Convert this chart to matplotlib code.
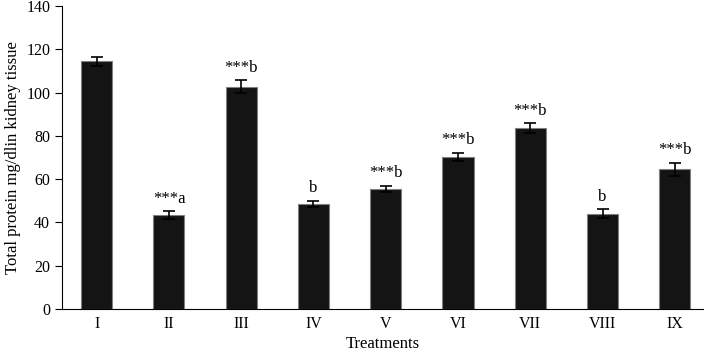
import matplotlib.pyplot as plt
import numpy as np

plt.rcParams['font.family'] = ['Liberation Serif', 'DejaVu Serif']

groups = ['I', 'II', 'III', 'IV', 'V', 'VI', 'VII', 'VIII', 'IX']
protein = [114.5, 43.5, 102.6, 48.5, 55.5, 70.2, 83.5, 44.0, 64.6]
err = [2.0, 1.8, 3.0, 1.5, 1.5, 2.0, 2.4, 2.0, 3.0]
marks = ['', '***a', '***b', 'b', '***b', '***b', '***b', 'b', '***b']

fig = plt.figure(figsize=(7.07, 3.53), dpi=100)
ax = fig.add_axes([62/707, 44/353, 641/707, 303/353])

x = np.arange(len(groups))
ax.bar(x, protein, width=0.43, color='#141414', edgecolor='#808080', linewidth=0.8,
       yerr=err, error_kw=dict(ecolor='black', elinewidth=1.2, capsize=4, capthick=1.2))

for xi, v, e, m in zip(x, protein, err, marks):
    if m:
        ax.text(xi, v + e + 2.0, m, ha='center', va='bottom', fontsize=12)

ax.set_xlim(-0.48, 8.39)
ax.set_ylim(0, 140)
ax.set_yticks(np.arange(0, 141, 20))
ax.set_xticks(x)
ax.set_xticklabels(groups)
ax.tick_params(axis='x', length=0, labelsize=11.5, pad=5)
ax.tick_params(axis='y', length=5, labelsize=11.5, direction='out')
ax.spines['top'].set_visible(False)
ax.spines['right'].set_visible(False)
ax.set_xlabel('Treatments', fontsize=12, labelpad=3)
ax.set_ylabel('Total protein mg/dlin kidney tissue', fontsize=12)

fig.savefig('out.png', dpi=100)
